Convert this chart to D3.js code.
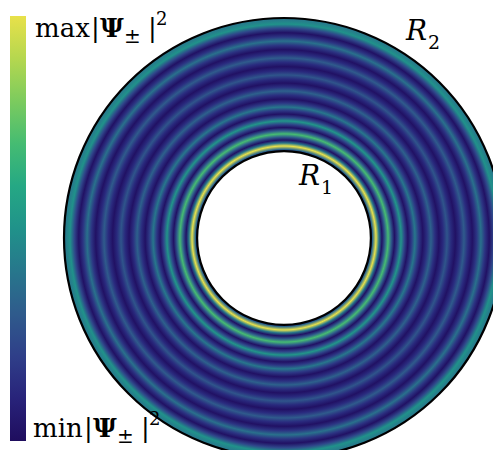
<!DOCTYPE html>
<html>
<head>
<meta charset="utf-8">
<script src="https://cdn.jsdelivr.net/npm/d3@7"></script>
<style>
  html, body { margin: 0; padding: 0; background: #fff; }
  svg { display: block; }
</style>
</head>
<body>
<script>
// Colour map for |Ψ±|², from min (first) to max (last)
const cmapColors = ["#1f0d5e", "#28237a", "#2f3f89", "#2f5b8c", "#27778c",
                    "#20928a", "#25a884", "#45bc72", "#7ccb5e", "#b5d74f", "#e8e14a"];

// Annulus radii, in units of the outer radius R2
const innerRadius = 0.395;
const outerRadius = 1.0;

// Radial profile of the normalised intensity: radius (units of R2) and value
const profileRadius = [0.395, 0.403, 0.418, 0.4315, 0.445,
                       0.459, 0.473, 0.4875, 0.502,
                       0.517, 0.532, 0.5475, 0.563,
                       0.579, 0.595, 0.613, 0.631,
                       0.6495, 0.668, 0.686, 0.704,
                       0.7225, 0.741, 0.760, 0.779,
                       0.7985, 0.818, 0.837, 0.856,
                       0.8755, 0.895, 0.914, 0.933,
                       0.9525, 0.972, 1.0];
const profileValue  = [0.10, 0.35, 1.00, 0.40, 0.02,
                       0.30, 0.70, 0.30, 0.02,
                       0.22, 0.52, 0.22, 0.02,
                       0.17, 0.40, 0.17, 0.02,
                       0.14, 0.32, 0.14, 0.02,
                       0.12, 0.28, 0.12, 0.02,
                       0.13, 0.30, 0.13, 0.02,
                       0.16, 0.38, 0.16, 0.02,
                       0.22, 0.50, 0.38];

// Text of the colour bar ends and the radius labels
const barTopLabel = "max";
const barBottomLabel = "min";
const radiusLabels = [{ name: "R", sub: "1" }, { name: "R", sub: "2" }];

const W = 493, H = 450;
const cx = 284, cy = 238, outerPx = 220;

const svg = d3.select("body").append("svg")
  .attr("width", W).attr("height", H)
  .attr("viewBox", `0 0 ${W} ${H}`);

const defs = svg.append("defs");
svg.append("clipPath").attr("id", "frame")
  .append("rect").attr("width", W).attr("height", H);

const rScale = d3.scaleLinear().domain([0, outerRadius]).range([0, outerPx]);
const color = d3.scaleLinear()
  .domain(cmapColors.map((_, i) => i / (cmapColors.length - 1)))
  .range(cmapColors)
  .interpolate(d3.interpolateRgb);

// Radial gradient built from the intensity profile (centred on the ring's own origin)
const rg = defs.append("radialGradient")
  .attr("id", "ringGrad")
  .attr("gradientUnits", "userSpaceOnUse")
  .attr("cx", 0).attr("cy", 0).attr("fx", 0).attr("fy", 0)
  .attr("r", rScale(outerRadius));
rg.selectAll("stop")
  .data(profileRadius.map((r, i) => ({ r, v: profileValue[i] })))
  .join("stop")
  .attr("offset", d => d.r / outerRadius)
  .attr("stop-color", d => color(d.v));

const plot = svg.append("g").attr("clip-path", "url(#frame)");
const ring = plot.append("g").attr("transform", `translate(${cx},${cy})`);

// Annulus filled with the radial intensity
const arc = d3.arc()
  .innerRadius(rScale(innerRadius))
  .outerRadius(rScale(outerRadius))
  .startAngle(0).endAngle(2 * Math.PI);
ring.append("path")
  .attr("d", arc())
  .attr("fill", "url(#ringGrad)");

// Boundaries at R1 and R2
ring.selectAll("circle.edge")
  .data([innerRadius, outerRadius])
  .join("circle")
  .attr("class", "edge")
  .attr("r", d => rScale(d))
  .attr("fill", "none")
  .attr("stroke", "#000")
  .attr("stroke-width", 2.2);

// Vertical colour bar
const barX = 10, barY = 16, barW = 16, barH = 425;
const lg = defs.append("linearGradient")
  .attr("id", "barGrad")
  .attr("x1", 0).attr("y1", 1).attr("x2", 0).attr("y2", 0);
lg.selectAll("stop")
  .data(cmapColors)
  .join("stop")
  .attr("offset", (d, i) => i / (cmapColors.length - 1))
  .attr("stop-color", d => d);
svg.append("rect")
  .attr("x", barX).attr("y", barY)
  .attr("width", barW).attr("height", barH)
  .attr("fill", "url(#barGrad)");

const fs = 26, fsSmall = 20;
const font = "'DejaVu Serif', 'Liberation Serif', serif";

// |Ψ±|² label: one text, pieces positioned along the baseline
function psiLabel(word, x0, base, xs) {
  const t = svg.append("text")
    .attr("font-family", font).attr("fill", "#000")
    .attr("x", x0).attr("y", base).attr("font-size", fs);
  t.append("tspan").text(word);
  t.append("tspan").attr("x", xs[0]).text("|");
  t.append("tspan").attr("x", xs[1]).attr("font-weight", "bold").text("Ψ");
  t.append("tspan").attr("x", xs[2]).attr("y", base + 6)
    .attr("font-size", fsSmall).text("±");
  t.append("tspan").attr("x", xs[3]).attr("y", base).text("|");
  t.append("tspan").attr("x", xs[4]).attr("y", base - 12)
    .attr("font-size", fsSmall - 2).text("2");
}
psiLabel(barTopLabel, 35, 37, [91, 100, 124, 148, 156]);
psiLabel(barBottomLabel, 33, 437, [84, 93, 117, 141, 149]);

// Radius labels
const radiusPos = [[299, 185], [406, 40]];
radiusLabels.forEach((lab, i) => {
  const [x, y] = radiusPos[i];
  const t = svg.append("text")
    .attr("font-family", font).attr("font-style", "italic")
    .attr("x", x).attr("y", y).attr("font-size", 28);
  t.append("tspan").text(lab.name);
  t.append("tspan").attr("font-style", "normal")
    .attr("font-size", 19).attr("dx", 1).attr("dy", 9).text(lab.sub);
});
</script>
</body>
</html>
